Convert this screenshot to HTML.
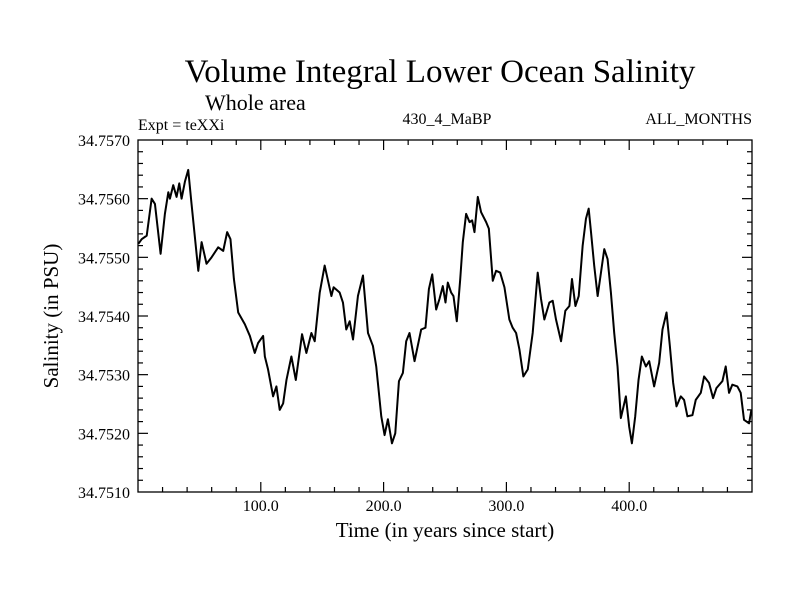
<!DOCTYPE html>
<html><head><meta charset="utf-8"><style>
body{margin:0;background:#fff;}
svg text{font-family:"Liberation Serif",serif;fill:#000;}
</style></head><body>
<svg id="chart" width="800" height="600" viewBox="0 0 800 600" xmlns="http://www.w3.org/2000/svg">
<rect x="0" y="0" width="800" height="600" fill="#fff"/>
<text x="440" y="82" font-size="33" text-anchor="middle">Volume Integral Lower Ocean Salinity</text>
<text x="205" y="110" font-size="22">Whole area</text>
<text x="138" y="130" font-size="16">Expt = teXXi</text>
<text x="447" y="124" font-size="16" text-anchor="middle">430_4_MaBP</text>
<text x="752" y="124" font-size="16" text-anchor="end">ALL_MONTHS</text>
<text x="445" y="537" font-size="21" text-anchor="middle">Time (in years since start)</text>
<text x="0" y="0" font-size="21" text-anchor="middle" transform="translate(58,316) rotate(-90)">Salinity (in PSU)</text>
<g id="axes"></g>
<path id="series" fill="none" stroke="#000" stroke-width="2" stroke-linejoin="round"/>
<rect x="138" y="140" width="614" height="352" fill="none" stroke="#000" stroke-width="1.3"/>
</svg>
<script>
const years=[0.3,3.0,7.1,11.1,13.8,18.4,21.9,24.7,26.0,28.7,31.4,33.6,35.5,38.2,40.9,43.6,49.1,51.8,55.8,59.9,65.3,69.4,72.6,75.3,78.1,81.6,87.0,91.1,95.1,97.8,101.9,103.3,105.9,110.0,112.7,115.4,118.2,120.9,124.9,128.5,133.6,137.1,141.2,143.9,148.0,152.0,157.5,159.3,164.2,166.9,169.6,172.4,175.1,179.1,183.2,187.3,191.3,194.0,198.1,200.8,203.5,206.8,209.5,212.5,215.7,218.4,221.1,225.2,230.6,234.1,236.9,239.6,242.8,245.5,248.2,250.4,252.3,255.0,256.9,259.6,262.4,264.5,267.2,270.0,272.1,274.0,276.7,279.4,283.5,285.7,288.9,291.6,294.9,298.4,302.4,305.1,307.9,310.6,313.8,317.4,321.4,325.5,328.2,330.9,335.0,337.7,340.4,344.5,348.0,351.3,353.4,356.2,358.9,362.1,364.8,367.0,368.9,371.5,374.3,377.0,379.7,382.4,385.1,387.8,390.5,393.2,397.3,400.0,402.2,404.9,407.6,410.3,413.6,416.3,420.3,424.4,427.1,430.4,433.1,435.8,438.5,442.0,444.7,447.4,451.5,454.2,458.3,461.0,465.0,468.3,471.0,475.9,478.6,481.3,484.0,488.1,490.8,493.5,497.6,499.5];
const salinity=[34.75523,34.75531,34.75537,34.75600,34.75591,34.75506,34.75574,34.75611,34.75600,34.75623,34.75603,34.75626,34.75600,34.75629,34.75649,34.75591,34.75477,34.75526,34.75489,34.75500,34.75517,34.75511,34.75543,34.75531,34.75463,34.75406,34.75386,34.75366,34.75337,34.75354,34.75366,34.75331,34.75309,34.75263,34.75280,34.75240,34.75251,34.75291,34.75331,34.75291,34.75369,34.75337,34.75371,34.75357,34.75440,34.75486,34.75434,34.75449,34.75440,34.75423,34.75377,34.75391,34.75360,34.75434,34.75469,34.75371,34.75349,34.75314,34.75229,34.75197,34.75224,34.75183,34.75200,34.75289,34.75303,34.75357,34.75371,34.75323,34.75377,34.75380,34.75446,34.75471,34.75411,34.75429,34.75451,34.75423,34.75457,34.75440,34.75434,34.75391,34.75463,34.75526,34.75574,34.75560,34.75563,34.75543,34.75603,34.75577,34.75560,34.75549,34.75460,34.75477,34.75474,34.75449,34.75394,34.75380,34.75371,34.75343,34.75297,34.75309,34.75371,34.75474,34.75429,34.75394,34.75423,34.75426,34.75394,34.75357,34.75409,34.75417,34.75463,34.75417,34.75434,34.75520,34.75566,34.75583,34.75543,34.75486,34.75434,34.75474,34.75514,34.75497,34.75440,34.75371,34.75314,34.75226,34.75263,34.75211,34.75183,34.75229,34.75291,34.75331,34.75314,34.75323,34.75280,34.75320,34.75377,34.75406,34.75349,34.75286,34.75246,34.75263,34.75257,34.75229,34.75231,34.75257,34.75269,34.75297,34.75286,34.75260,34.75277,34.75289,34.75314,34.75269,34.75283,34.75280,34.75269,34.75223,34.75217,34.75240];
const xTickValues=[100,200,300,400];
const xTickLabels=["100.0","200.0","300.0","400.0"];
const yTickValues=[34.751,34.752,34.753,34.754,34.755,34.756,34.757];
const yTickLabels=["34.7510","34.7520","34.7530","34.7540","34.7550","34.7560","34.7570"];

const X0=138,X1=752,Y0=492,Y1=140,XMIN=0,XMAX=500,YMIN=34.751,YMAX=34.757;
const sx=v=>X0+(v-XMIN)/(XMAX-XMIN)*(X1-X0);
const sy=v=>Y0-(v-YMIN)/(YMAX-YMIN)*(Y0-Y1);
const NS="http://www.w3.org/2000/svg";
const axes=document.getElementById('axes');
function ln(x1,y1,x2,y2){const l=document.createElementNS(NS,'line');l.setAttribute('x1',x1);l.setAttribute('y1',y1);l.setAttribute('x2',x2);l.setAttribute('y2',y2);l.setAttribute('stroke','#000');l.setAttribute('stroke-width','1.2');


axes.appendChild(l);}
function tx(x,y,s,anchor,name){const t=document.createElementNS(NS,'text');t.setAttribute('x',x);t.setAttribute('y',y);t.setAttribute('font-size','16');t.setAttribute('text-anchor',anchor);t.textContent=s;


axes.appendChild(t);}
for(let v=20;v<XMAX;v+=20){const x=sx(v);const major=v%100===0;const L=major?10:5;ln(x,Y0,x,Y0-L);ln(x,Y1,x,Y1+L);}
xTickValues.forEach((v,i)=>tx(sx(v),511,xTickLabels[i],'middle','x-tick-label'));
for(let k=1;k<30;k++){const v=YMIN+k*0.0002;const y=sy(v);const major=k%5===0;const L=major?10:5;ln(X0,y,X0+L,y);ln(X1,y,X1-L,y);}
yTickValues.forEach((v,i)=>tx(130,sy(v)+6,yTickLabels[i],'end','y-tick-label'));
let d='';
years.forEach((yr,i)=>{d+=(i?'L':'M')+sx(yr).toFixed(2)+','+sy(salinity[i]).toFixed(2);});
document.getElementById('series').setAttribute('d',d);
</script>
</body></html>
